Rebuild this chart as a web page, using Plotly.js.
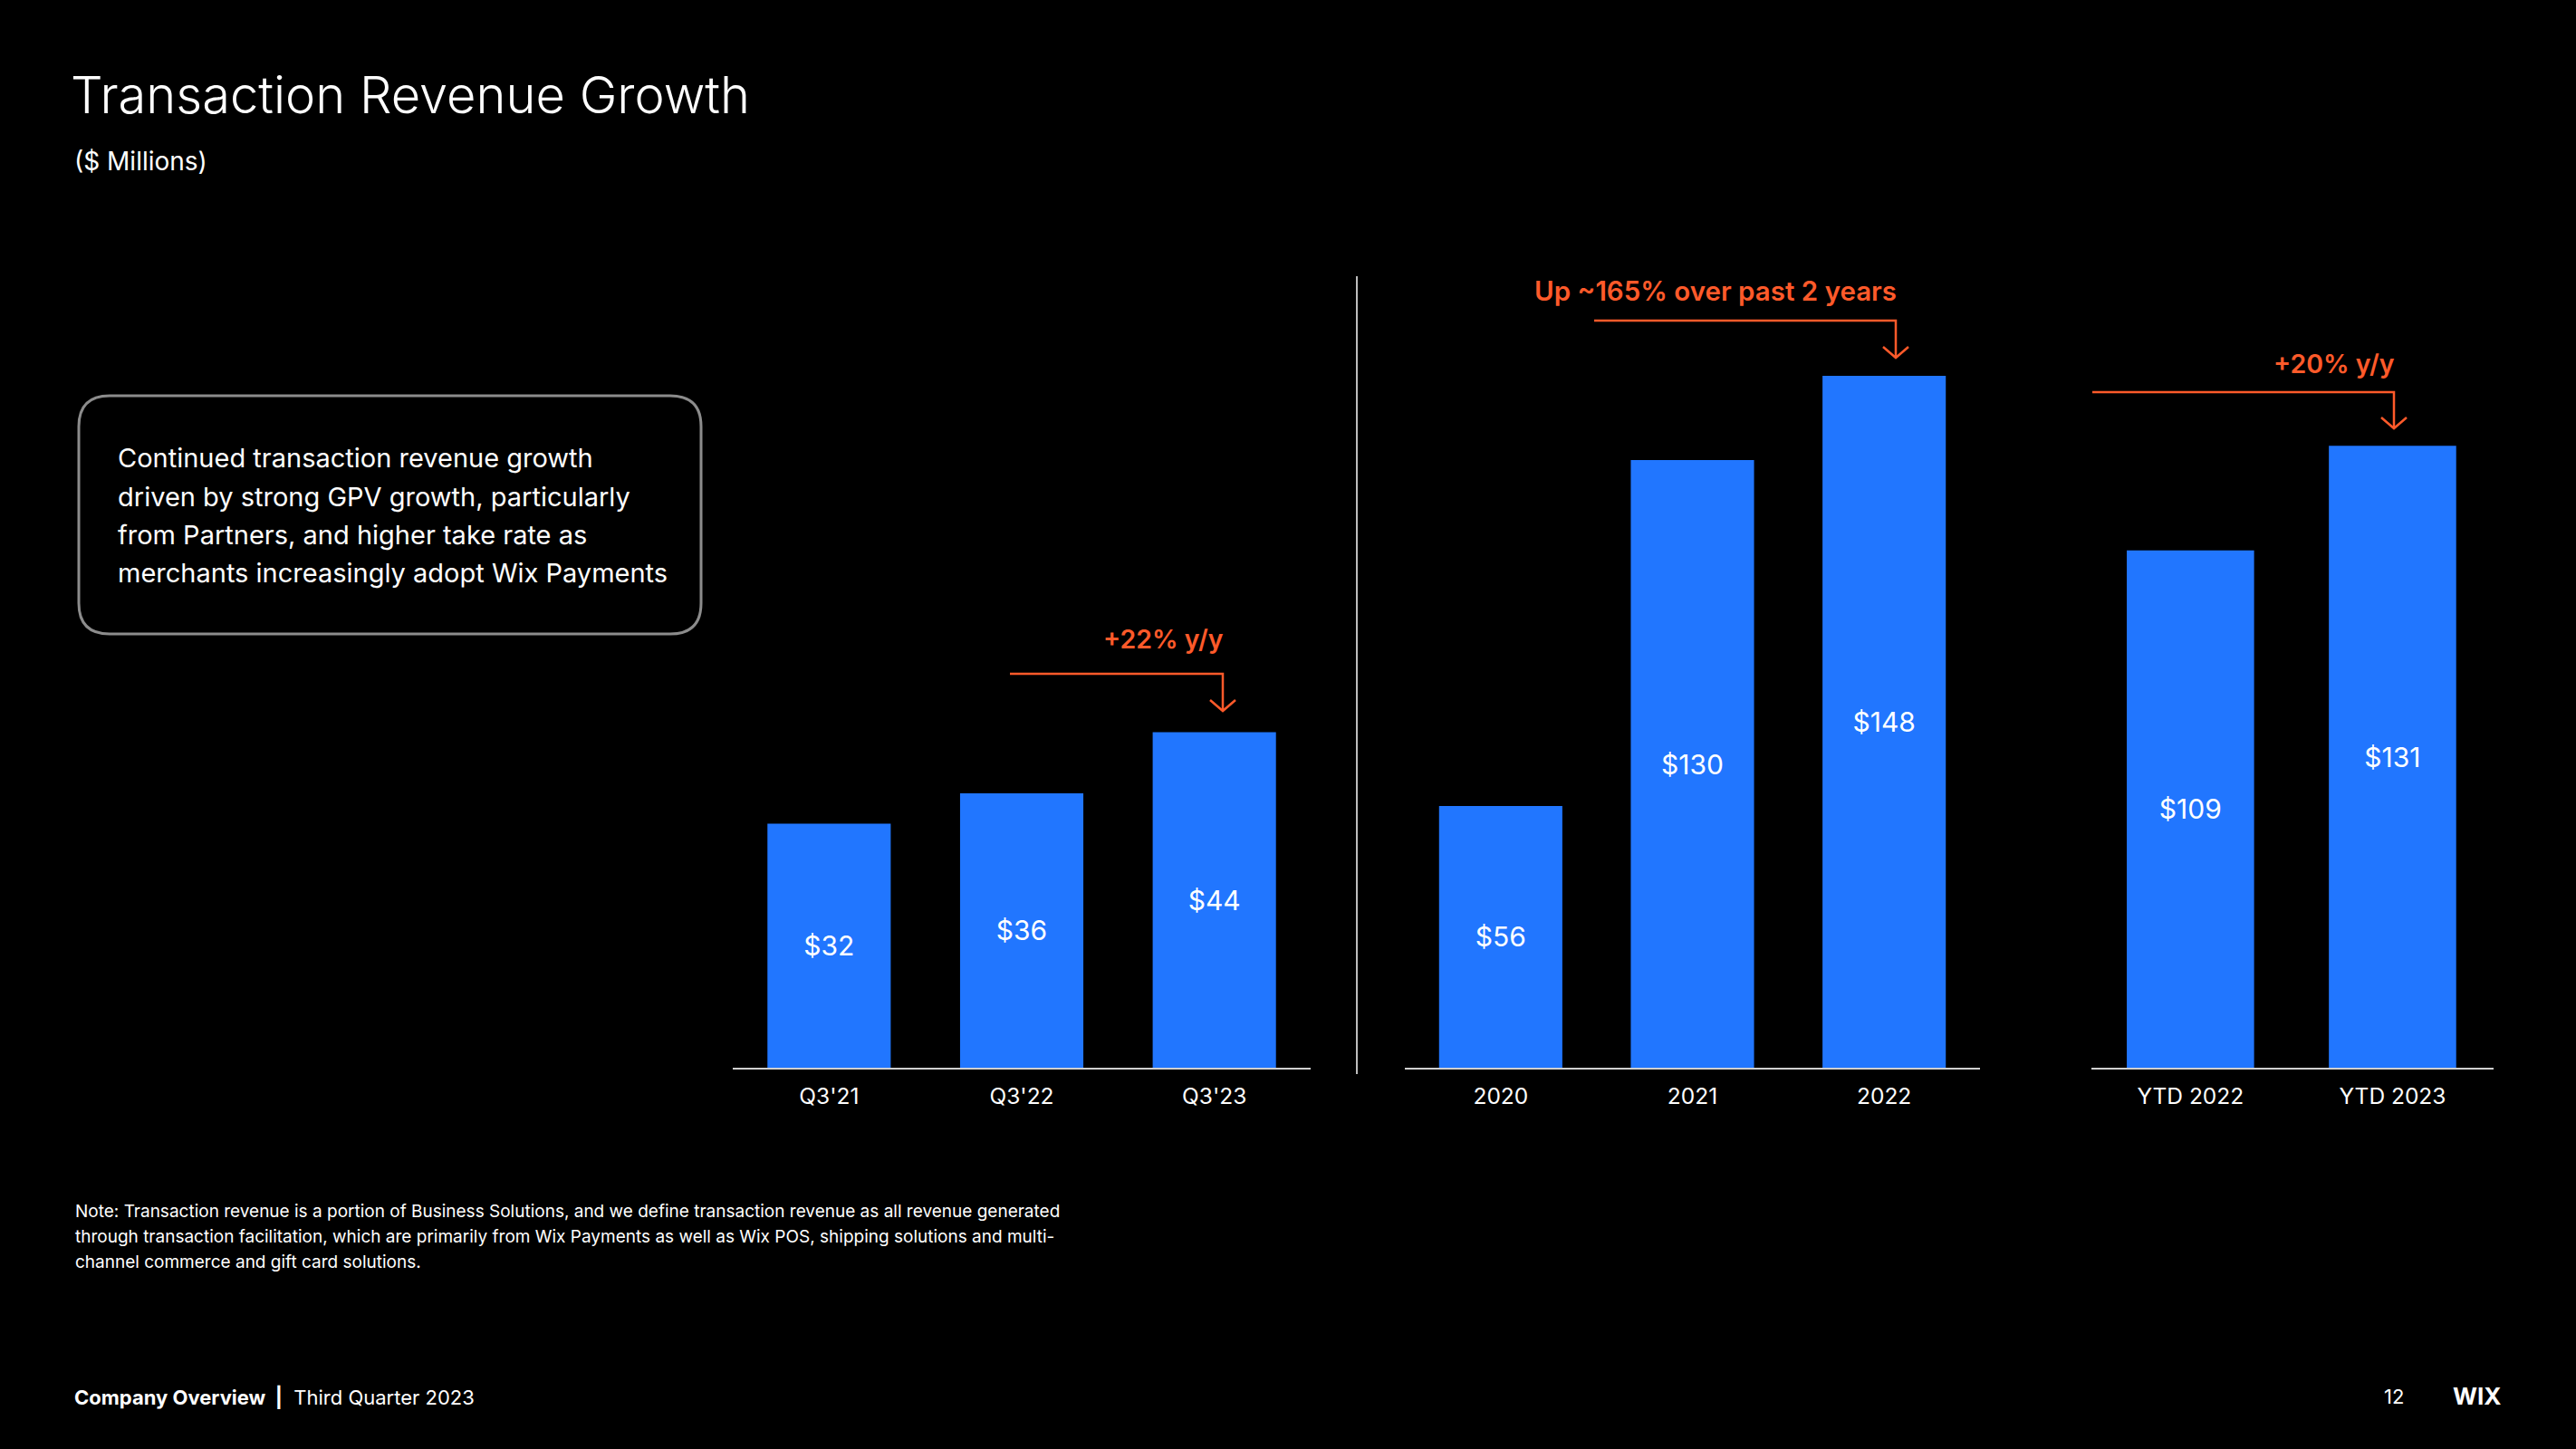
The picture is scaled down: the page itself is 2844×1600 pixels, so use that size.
<!DOCTYPE html>
<html>
<head>
<meta charset="utf-8">
<script src="https://cdn.plot.ly/plotly-3.0.1.min.js"></script>
<style>
  html, body { margin: 0; padding: 0; background: #000; }
  #chart { width: 2844px; height: 1600px; }
</style>
</head>
<body>
<div id="chart"></div>
<script>
// ---- Data ----
const quarterCategories = ["Q3'21", "Q3'22", "Q3'23"];
const quarterValues = [32, 36, 44];
const annualCategories = ["2020", "2021", "2022"];
const annualValues = [56, 130, 148];
const ytdCategories = ["YTD 2022", "YTD 2023"];
const ytdValues = [109, 131];

const titleText = "Transaction Revenue Growth";
const subtitleText = "($ Millions)";
const boxLines = [
  "Continued transaction revenue growth",
  "driven by strong GPV growth, particularly",
  "from Partners, and higher take rate as",
  "merchants increasingly adopt Wix Payments"
];
const noteLines = [
  "Note: Transaction revenue is a portion of Business Solutions, and we define transaction revenue as all revenue generated",
  "through transaction facilitation, which are primarily from Wix Payments as well as Wix POS, shipping solutions and multi-",
  "channel commerce and gift card solutions."
];
const growthLabels = ["+22% y/y", "Up ~165% over past 2 years", "+20% y/y"];

// ---- Styling ----
const W = 2844, H = 1600;
const FONT = 'Inter, "Noto Sans", "DejaVu Sans", sans-serif';
const BLUE = '#2176FF';
const ORANGE = '#FF5A2A';
const WHITE = '#FFFFFF';
const px = x => x / W;
const py = y => 1 - y / H;

function barTrace(cats, vals, xa, ya, width) {
  return {
    type: 'bar',
    x: cats,
    y: vals,
    xaxis: xa,
    yaxis: ya,
    width: width,
    marker: { color: BLUE, line: { width: 0 } },
    texttemplate: '$%{y}',
    textposition: 'inside',
    insidetextanchor: 'middle',
    textangle: 0,
    constraintext: 'none',
    textfont: { family: FONT, size: 30, color: WHITE },
    hoverinfo: 'skip'
  };
}

const data = [
  barTrace(quarterCategories, quarterValues, 'x', 'y', 0.64),
  barTrace(annualCategories, annualValues, 'x2', 'y2', 0.643),
  barTrace(ytdCategories, ytdValues, 'x3', 'y3', 0.63)
];

const yDomain = [py(1179), py(300)];

function xAxis(domain, range) {
  return {
    type: 'category',
    domain: domain,
    range: range,
    showgrid: false,
    zeroline: false,
    showline: true,
    linecolor: '#d0d0d0',
    linewidth: 2,
    ticks: '',
    ticklabelstandoff: 9,
    tickfont: { family: FONT, size: 24.5, color: WHITE },
    fixedrange: true
  };
}
function yAxis(anchor, maxv) {
  return {
    anchor: anchor,
    domain: yDomain,
    range: [0, maxv],
    showgrid: false,
    zeroline: false,
    showline: false,
    showticklabels: false,
    ticks: '',
    fixedrange: true
  };
}

const annotations = [];
function txt(text, x, y, size, opts) {
  annotations.push(Object.assign({
    text: text, xref: 'paper', yref: 'paper', x: px(x), y: py(y),
    xanchor: 'left', yanchor: 'middle', showarrow: false,
    font: { family: FONT, size: size, color: WHITE }
  }, opts || {}));
}

txt(titleText, 76, 105, 56, { font: { family: FONT, size: 56, color: WHITE, weight: 300 } });
txt(subtitleText, 80, 178, 28);
const boxY = [506, 548, 590, 632];
boxLines.forEach((l, i) => txt(l, 128, boxY[i], 29));
const noteY = [1337, 1365, 1393];
noteLines.forEach((l, i) => txt(l, 81, noteY[i], 19));
txt('<b>Company Overview  |</b>  Third Quarter 2023', 80, 1542, 22);
txt('12', 2656, 1542, 22, { xanchor: 'right' });
txt('<b>WIX</b>', 2763, 1541, 26, { xanchor: 'right' });

// growth callouts
const callouts = [
  { label: growthLabels[0], x0: 1115, xa: 1350, yt: 706, yh: 744, ytip: 785 },
  { label: growthLabels[1], x0: 1760, xa: 2093, yt: 321, yh: 354, ytip: 395 },
  { label: growthLabels[2], x0: 2310, xa: 2643, yt: 402, yh: 433, ytip: 473 }
];
const shapes = [];
const labelSizes = [28.5, 29.5, 28.5];
callouts.forEach((c, i) => {
  txt(c.label, c.xa + 3, c.yt, labelSizes[i], { xanchor: 'right', font: { family: FONT, size: labelSizes[i], color: ORANGE, weight: 600 } });
  shapes.push({
    type: 'path', xref: 'paper', yref: 'paper',
    path: `M ${px(c.x0)},${py(c.yh)} L ${px(c.xa)},${py(c.yh)} L ${px(c.xa)},${py(c.ytip)}`,
    line: { color: ORANGE, width: 2.5 }
  });
  shapes.push({
    type: 'path', xref: 'paper', yref: 'paper',
    path: `M ${px(c.xa - 14)},${py(c.ytip - 12)} L ${px(c.xa)},${py(c.ytip)} L ${px(c.xa + 14)},${py(c.ytip - 12)}`,
    line: { color: ORANGE, width: 2.5 }
  });
});

// divider
shapes.push({
  type: 'line', xref: 'paper', yref: 'paper',
  x0: px(1498), x1: px(1498), y0: py(305), y1: py(1186),
  line: { color: '#bdbdbd', width: 2 }
});

// rounded text box
(function () {
  const x0 = 87, x1 = 774, y0 = 437, y1 = 700, r = 34;
  const p = (x, y) => `${px(x)},${py(y)}`;
  const path = `M ${p(x0 + r, y0)} L ${p(x1 - r, y0)} Q ${p(x1, y0)} ${p(x1, y0 + r)} ` +
    `L ${p(x1, y1 - r)} Q ${p(x1, y1)} ${p(x1 - r, y1)} L ${p(x0 + r, y1)} ` +
    `Q ${p(x0, y1)} ${p(x0, y1 - r)} L ${p(x0, y0 + r)} Q ${p(x0, y0)} ${p(x0 + r, y0)} Z`;
  shapes.push({
    type: 'path', xref: 'paper', yref: 'paper', path: path,
    line: { color: '#8c8c8c', width: 3 }, fillcolor: 'rgba(0,0,0,0)'
  });
})();

const layout = {
  width: W, height: H,
  paper_bgcolor: '#000000',
  plot_bgcolor: '#000000',
  margin: { l: 0, r: 0, t: 0, b: 0 },
  showlegend: false,
  font: { family: FONT, color: WHITE },
  xaxis: xAxis([px(809), px(1447)], [-0.5, 2.5]),
  xaxis2: xAxis([px(1551), px(2186)], [-0.5, 2.5]),
  xaxis3: xAxis([px(2309), px(2753)], [-0.49, 1.5]),
  yaxis: yAxis('x', 104.4),
  yaxis2: yAxis('x2', 170.3),
  yaxis3: yAxis('x3', 167.7),
  annotations: annotations,
  shapes: shapes
};

Plotly.newPlot('chart', data, layout, { staticPlot: true, displayModeBar: false });
</script>
</body>
</html>
